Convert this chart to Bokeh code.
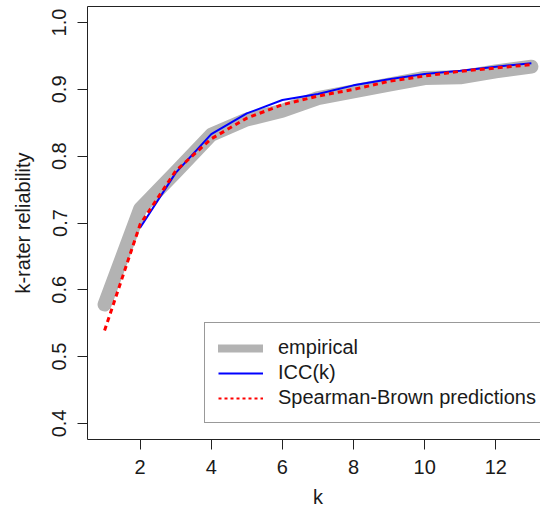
from bokeh.plotting import figure
from bokeh.models import (ColumnDataSource, Legend, LegendItem, LinearAxis,
                          FixedTicker, Range1d)
from bokeh.embed import file_html
from bokeh.resources import INLINE

# ---- data ----
k_all = [1, 2, 3, 4, 5, 6, 7, 8, 9, 10, 11, 12, 13]
empirical = [0.578, 0.721, 0.776, 0.832, 0.855, 0.868, 0.887, 0.897,
             0.907, 0.917, 0.918, 0.927, 0.934]
k_icc = [2, 3, 4, 5, 6, 7, 8, 9, 10, 11, 12, 13]
icc_k = [0.693, 0.775, 0.833, 0.864, 0.884, 0.893, 0.906, 0.915,
         0.923, 0.928, 0.934, 0.939]
spearman_brown = [0.539, 0.698, 0.778, 0.826, 0.857, 0.877, 0.890, 0.900,
                  0.912, 0.920, 0.927, 0.932, 0.937]
series_names = ["empirical", "ICC(k)", "Spearman-Brown predictions"]
x_ticks = [2, 4, 6, 8, 10, 12]
x_tick_labels = ["2", "4", "6", "8", "10", "12"]
y_ticks = [0.4, 0.5, 0.6, 0.7, 0.8, 0.9, 1.0]
y_tick_labels = ["0.4", "0.5", "0.6", "0.7", "0.8", "0.9", "1.0"]
x_title = "k"
y_title = "k-rater reliability"
x_lo, x_hi = 0.52, 13.48

FONT = "Liberation Sans"
TXT = "#1a1a1a"
GRAY = "#b3b3b3"
FS = "20px"

p = figure(width=540, height=513,
           x_range=Range1d(x_lo, 13.256), y_range=Range1d(0.376, 1.024),
           output_backend="svg", toolbar_location=None,
           min_border_left=87, min_border_bottom=74,
           min_border_top=6, min_border_right=0,
           y_axis_label=y_title)
p.outline_line_color = None
p.xgrid.visible = False
p.ygrid.visible = False
p.background_fill_color = "white"
p.border_fill_color = "white"

p.xaxis.ticker = FixedTicker(ticks=x_ticks)
p.xaxis.major_label_overrides = {t: s for t, s in zip(x_ticks, x_tick_labels)}
p.yaxis.ticker = FixedTicker(ticks=y_ticks)
p.yaxis.major_label_overrides = {t: s for t, s in zip(y_ticks, y_tick_labels)}

for ax in (p.xaxis[0], p.yaxis[0]):
    ax.axis_line_color = "#222222"
    ax.axis_line_width = 1
    ax.major_tick_line_color = "#222222"
    ax.major_tick_out = 10
    ax.major_tick_in = 0
    ax.minor_tick_line_color = None
    ax.major_label_text_font = FONT
    ax.major_label_text_font_size = FS
    ax.major_label_text_color = TXT
    ax.axis_label_text_font = FONT
    ax.axis_label_text_font_size = FS
    ax.axis_label_text_font_style = "normal"
    ax.axis_label_text_color = TXT

p.xaxis.major_label_standoff = 10
p.yaxis.major_label_standoff = 11
p.yaxis.axis_label_standoff = 16
p.yaxis.major_label_orientation = "vertical"

# x-axis title: a second, line-less axis stacked below, labelled at the
# centre of the plot region
mid = (x_lo + x_hi) / 2
title_axis = LinearAxis(ticker=FixedTicker(ticks=[mid]),
                        major_label_overrides={mid: x_title},
                        axis_line_color=None, major_tick_line_color=None,
                        minor_tick_line_color=None, major_tick_out=0,
                        major_tick_in=0, major_label_standoff=9,
                        major_label_text_font=FONT,
                        major_label_text_font_size=FS,
                        major_label_text_color=TXT)
p.add_layout(title_axis, "below")

top = LinearAxis(ticker=FixedTicker(ticks=[]), axis_line_color="#222222",
                 major_tick_line_color=None, minor_tick_line_color=None,
                 major_label_text_font_size="0px", major_label_standoff=0)
p.add_layout(top, "above")

# ---- data lines ----
src_emp = ColumnDataSource(dict(k=k_all, v=empirical))
src_icc = ColumnDataSource(dict(k=k_icc, v=icc_k))
src_sb = ColumnDataSource(dict(k=k_all, v=spearman_brown))

p.line("k", "v", source=src_emp, line_color=GRAY, line_width=14,
       line_cap="round", line_join="round")
p.line("k", "v", source=src_icc, line_color="#0000ff", line_width=2)
p.line("k", "v", source=src_sb, line_color="#ff0000", line_width=3,
       line_dash="5 4")

# ---- legend samples (no visible data, legend-only styling) ----
nan = float("nan")
r1 = p.line("k", "v", source=ColumnDataSource(dict(k=[nan], v=[nan])),
            line_color=GRAY, line_width=8, line_cap="round")
r2 = p.line("k", "v", source=ColumnDataSource(dict(k=[nan], v=[nan])),
            line_color="#0000ff", line_width=2)
r3 = p.line("k", "v", source=ColumnDataSource(dict(k=[nan], v=[nan])),
            line_color="#ff0000", line_width=2, line_dash="3 3")

legend = Legend(items=[LegendItem(label=series_names[0], renderers=[r1]),
                       LegendItem(label=series_names[1], renderers=[r2]),
                       LegendItem(label=series_names[2], renderers=[r3])],
                location=(117, 16), orientation="vertical",
                padding=13, spacing=2, margin=0,
                glyph_width=45, glyph_height=22, label_height=22,
                label_standoff=15,
                label_text_font=FONT, label_text_font_size=FS,
                label_text_color=TXT,
                border_line_color="#333333", border_line_width=1,
                background_fill_color="white", background_fill_alpha=1.0)
p.add_layout(legend, "center")

open("out.html", "w").write(file_html(p, INLINE))
